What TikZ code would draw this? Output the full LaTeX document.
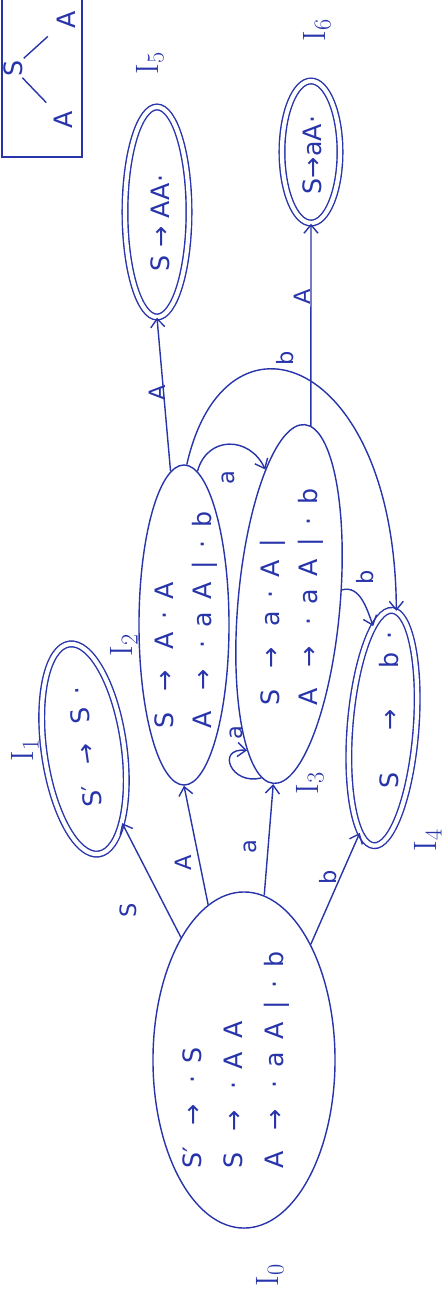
\documentclass[tikz,border=0pt]{standalone}
\usepackage{fontspec}
\setsansfont{DejaVu Sans}
\newfontfamily\hand[LetterSpace=50]{DejaVu Sans}
\usepackage{tikz}
\usetikzlibrary{arrows.meta,shapes.geometric}
\definecolor{ink}{RGB}{40,52,170}
\newcommand{\sprime}{{\addfontfeature{LetterSpace=0}S′}}

\begin{document}
\begin{tikzpicture}[
  x=0.025cm, y=-0.025cm,
  every node/.style={text=ink, font=\sffamily\fontsize{16}{19}\selectfont},
  state/.style={ellipse, draw=ink, line width=1pt, inner sep=0pt},
  accept/.style={state, double, double distance=3pt},
  items/.style={rotate=90, align=left, inner sep=0pt, font=\hand\fontsize{18}{27}\selectfont},
  lbl/.style={rotate=90, inner sep=1pt},
  iname/.style={rotate=90, inner sep=1pt, font=\rmfamily\fontsize{23}{26}\selectfont},
  edge/.style={draw=ink, line width=1pt, -{Straight Barb[length=6pt,width=10pt]}},
]
\useasboundingbox (0,0) rectangle (445,1310);

% item sets
\node[state, minimum width=4.55cm, minimum height=8.4cm] (I0) at (244,1060) {};
\node[accept, minimum width=2cm, minimum height=5.3cm, rotate=8] (I1) at (84,749) {};
\node[state, minimum width=2.25cm, minimum height=8cm] (I2) at (184,625) {};
\node[state, minimum width=2.55cm, minimum height=9cm, rotate=-5] (I3) at (289,604) {};
\node[accept, minimum width=1.65cm, minimum height=5.9cm, rotate=-4.5] (I4) at (383,728) {};
\node[accept, minimum width=1.6cm, minimum height=5.25cm] (I5) at (157,212) {};
\node[accept, minimum width=1.45cm, minimum height=3.55cm] (I6) at (311,152) {};

\node[items, font=\hand\fontsize{18}{29}\selectfont] (t0) at (236,1060) {\sprime{} → ·S\\S → ·AA\\A → ·aA|·b};
\node[items, rotate=8] (t1) at (85,747) {\sprime{} → S·};
\node[items] (t2) at (186,620) {S → A·A\\A → ·aA|·b};
\node[items] (t3) at (292,597) {S → a·A|\\A → ·aA|·b};
\node[items] (t4) at (389,710) {S~ → ~b·};
\node[items, font=\sffamily\fontsize{18}{27}\selectfont] (t5) at (160,223) {S → AA·};
\node[items, font=\sffamily\fontsize{18}{27}\selectfont] (t6) at (312,155) {S→aA·};

\node[iname] (n0) at (270,1275) {I$_0$};
\node[iname] (n1) at (25,750) {I$_1$};
\node[iname] (n2) at (124,645) {I$_2$};
\node[iname] (n3) at (310,783) {I$_3$};
\node[iname] (n4) at (428,840) {I$_4$};
\node[iname] (n5) at (150,63) {I$_5$};
\node[iname] (n6) at (317,30) {I$_6$};

% transitions
\draw[edge] (I0) -- (I1);
\draw[edge] (I0.103) -- (I2.south);
\draw[edge] (I0.83) -- (I3.south);
\draw[edge] (I0.60) -- (I4.262);
\draw[edge] (I2.95) -- (I5.south);
\draw[edge] (I2.85) to[out=75,in=115,looseness=1.4] (I3.105);
\draw[edge] (I2.89) .. controls (225,295) and (395,355) .. (I4.88);
\draw[edge] (I3.88) -- (I6.south);
\draw[edge] (I3.20) to[out=15,in=110] (I4.100);
\draw[edge] (I3.266) to[out=195,in=175,looseness=2.6] (I3.259);

\node[lbl] (l01) at (128,910) {S};
\node[lbl] (l02) at (183,863) {A};
\node[lbl] (l03) at (250,847) {a};
\node[lbl] (l04) at (328,877) {b};
\node[lbl] (l25) at (157,393) {A};
\node[lbl] (l23) at (228,478) {a};
\node[lbl] (l24) at (285,358) {b};
\node[lbl] (l36) at (302,297) {A};
\node[lbl] (l34) at (365,577) {b};
\node[lbl] (l33) at (236,733) {a};

% grammar tree
\draw[ink, line width=1pt] (2,-10) rectangle (82,157);
\node[lbl, font=\sffamily\fontsize{18}{20}\selectfont] (tS) at (13,68) {S};
\node[lbl, font=\sffamily\fontsize{18}{20}\selectfont] (tA1) at (63,120) {A};
\node[lbl, font=\sffamily\fontsize{18}{20}\selectfont] (tA2) at (66,20) {A};
\draw[ink, line width=1pt, shorten >=7pt] (tS) -- (tA1);
\draw[ink, line width=1pt, shorten >=7pt] (tS) -- (tA2);
\end{tikzpicture}
\end{document}
